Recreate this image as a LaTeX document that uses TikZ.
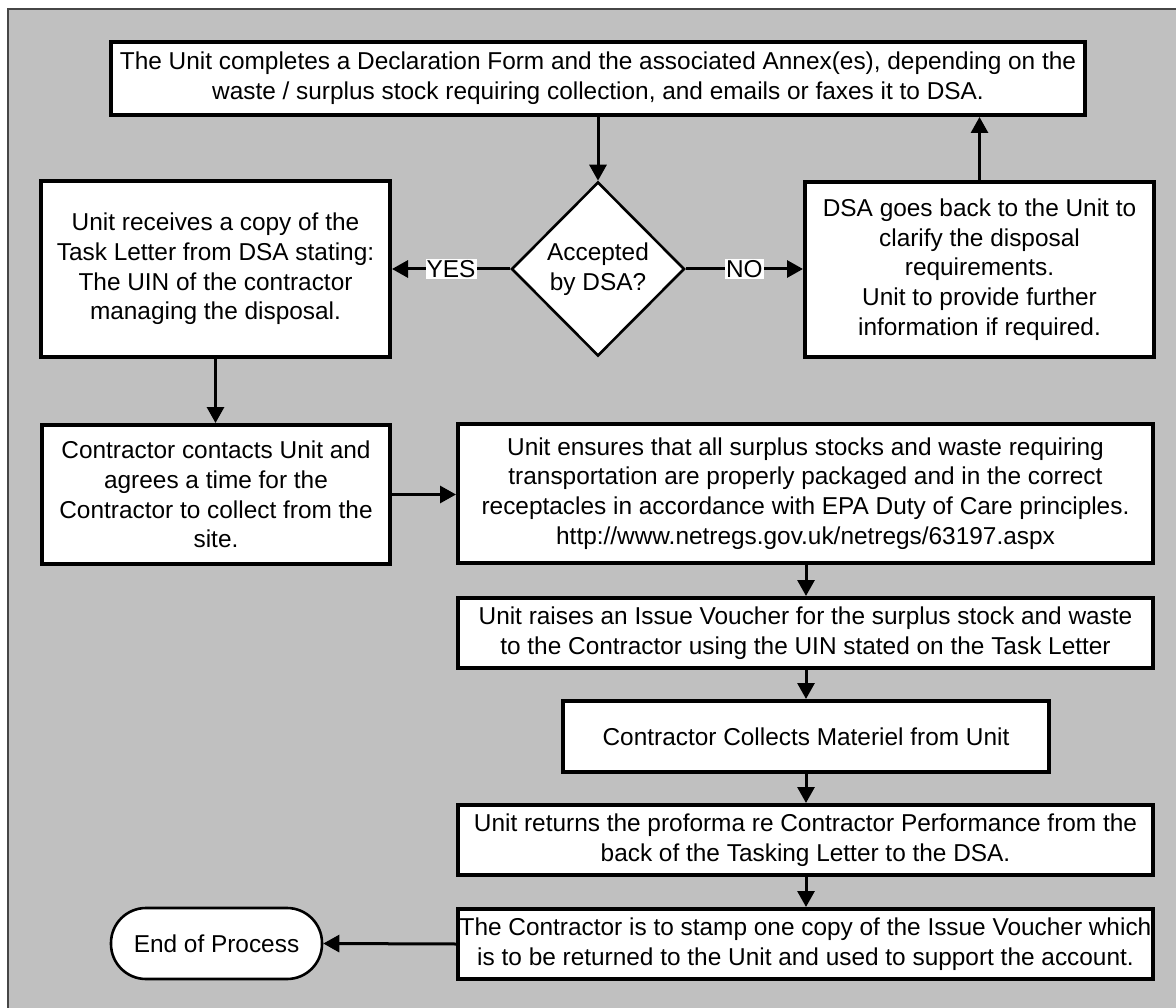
\documentclass[tikz,border=0pt]{standalone}
\usepackage{fontspec}
\setmainfont{Liberation Sans}
\usetikzlibrary{shapes.geometric,arrows.meta}
\definecolor{bggray}{RGB}{192,192,192}
\definecolor{edgegray}{RGB}{70,70,70}
\begin{document}
\begin{tikzpicture}[x=1pt,y=-1pt,
  every node/.style={font=\fontsize{24.4}{29.7}\selectfont, align=center, inner sep=0pt},
  procbox/.style={draw=black, line width=4pt, fill=white, rectangle},
  decbox/.style={draw=black, line width=2.6pt, fill=white, diamond, inner sep=0pt},
  termbox/.style={draw=black, line width=2.6pt, fill=white, rectangle, rounded corners=35pt},
  flow/.style={draw=black, line width=3pt, -{Triangle[length=16pt,width=17pt]}},
  lbl/.style={fill=white, inner sep=1pt}
]
\useasboundingbox (0,0) rectangle (1176,1008);
\fill[bggray] (8,9) rectangle (1180,1012);
\draw[edgegray, line width=1.2pt] (8,1012) -- (8,9) -- (1180,9);

\node[procbox, minimum width=974pt, minimum height=73pt] (top) at (598,78.5)
  {The Unit completes a Declaration Form and the associated Annex(es), depending on the\\waste / surplus stock requiring collection, and emails or faxes it to DSA.};
\node[decbox, minimum width=173pt, minimum height=174pt] (dec) at (598,269) {Accepted\\by DSA?};
\node[procbox, minimum width=349pt, minimum height=176pt] (recv) at (215.5,269)
  {Unit receives a copy of the\\Task Letter from DSA stating:\\The UIN of the contractor\\managing the disposal.};
\node[procbox, minimum width=349pt, minimum height=175pt] (back) at (979.5,269.5)
  {DSA goes back to the Unit to\\clarify the disposal\\requirements.\\Unit to provide further\\information if required.};
\node[procbox, minimum width=348pt, minimum height=139pt] (contact) at (216,494.5)
  {Contractor contacts Unit and\\agrees a time for the\\Contractor to collect from the\\site.};
\node[procbox, minimum width=695pt, minimum height=139pt] (ensure) at (805.5,493.5)
  {Unit ensures that all surplus stocks and waste requiring\\transportation are properly packaged and in the correct\\receptacles in accordance with EPA Duty of Care principles.\\http://www.netregs.gov.uk/netregs/63197.aspx};
\node[procbox, minimum width=695pt, minimum height=70pt] (raise) at (805.5,633)
  {Unit raises an Issue Voucher for the surplus stock and waste\\to the Contractor using the UIN stated on the Task Letter};
\node[procbox, minimum width=486pt, minimum height=71pt] (collect) at (806,736.5)
  {Contractor Collects Materiel from Unit};
\node[procbox, minimum width=695pt, minimum height=70pt] (ret) at (805.5,840)
  {Unit returns the proforma re Contractor Performance from the\\back of the Tasking Letter to the DSA.};
\node[procbox, minimum width=695pt, minimum height=70pt] (stamp) at (805.5,944)
  {The Contractor is to stamp one copy of the Issue Voucher which\\is to be returned to the Unit and used to support the account.};
\node[termbox, minimum width=211pt, minimum height=71pt] (endp) at (216.5,943.5) {End of Process};

\draw[flow] (top.south -| dec.north) -- (dec.north);
\draw[flow] (dec.west) -- node[lbl] {YES} (recv.east |- dec.west);
\draw[flow] (dec.east) -- node[lbl] {NO} (back.west |- dec.east);
\draw[flow] (back.north) -- (top.south -| back.north);
\draw[flow] (recv.south) -- (contact.north -| recv.south);
\draw[flow] (contact.east) -- (ensure.west |- contact.east);
\draw[flow] (ensure.south -| collect.north) -- (raise.north -| collect.north);
\draw[flow] (raise.south -| collect.north) -- (collect.north);
\draw[flow] (collect.south) -- (ret.north -| collect.south);
\draw[flow] (ret.south -| collect.south) -- (stamp.north -| collect.south);
\draw[flow] (stamp.west) -- (endp.east);
\end{tikzpicture}
\end{document}
